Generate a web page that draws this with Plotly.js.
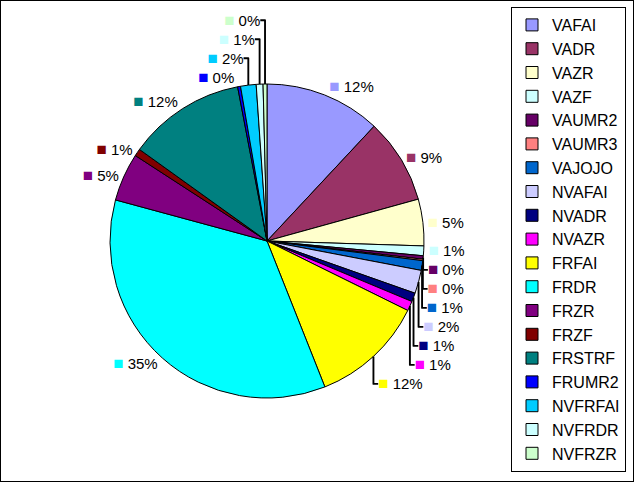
<!DOCTYPE html>
<html><head><meta charset="utf-8">
<script src="https://cdn.plot.ly/plotly-3.0.1.min.js"></script>
<style>html,body{margin:0;padding:0;background:#fff}#c{width:634px;height:482px}</style>
</head><body><div id="c"></div>
<script>
const categories = ["VAFAI","VADR","VAZR","VAZF","VAUMR2","VAUMR3","VAJOJO","NVAFAI","NVADR","NVAZR","FRFAI","FRDR","FRZR","FRZF","FRSTRF","FRUMR2","NVFRFAI","NVFRDR","NVFRZR"];
const values = [11.96,8.76,4.8,1.0,0.35,0.15,1.0,2.4,0.9,1.0,11.7,35.25,4.95,0.75,12.1,0.3,1.6,0.7,0.4];
const colors = ["#9999FF","#993366","#FFFFCC","#CCFFFF","#660066","#FF8080","#0066CC","#CCCCFF","#000080","#FF00FF","#FFFF00","#00FFFF","#800080","#800000","#008080","#0000FF","#00CCFF","#CCFFFF","#CCFFCC"];

const templates = colors.map(c => '<span style="color:' + c + ';font-size:17px">■</span> %{percent:.0%}');

const trace = {
  type: 'pie',
  labels: categories,
  values: values,
  sort: false,
  direction: 'clockwise',
  rotation: 0,
  marker: {colors: colors, line: {color: '#000000', width: 1}},
  texttemplate: templates,
  textposition: 'outside',
  textfont: {family: 'Liberation Sans, Arial, sans-serif', size: 15, color: '#000'},
  hoverinfo: 'none',
  domain: {x: [110/634, 424/634], y: [84/482, 398/482]},
  automargin: false
};

const layout = {
  width: 634, height: 482,
  margin: {l: 0, r: 0, t: 0, b: 0},
  paper_bgcolor: '#ffffff',
  showlegend: true,
  legend: {
    x: 626/634, xanchor: 'right', y: 1 - 7/482, yanchor: 'top',
    bordercolor: '#000', borderwidth: 1, bgcolor: '#fff',
    font: {family: 'Liberation Sans, Arial, sans-serif', size: 16, color: '#000'},
    traceorder: 'normal'
  },
  shapes: [{type: 'rect', xref: 'paper', yref: 'paper', x0: 0, x1: 1, y0: 0, y1: 1,
            line: {color: '#000', width: 2}}]
};

Plotly.newPlot('c', [trace], layout, {displayModeBar: false, staticPlot: true});
</script>
</body></html>
